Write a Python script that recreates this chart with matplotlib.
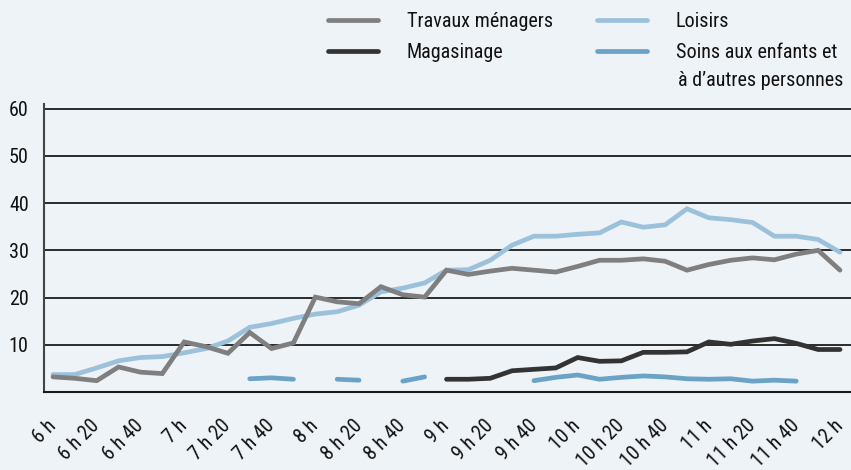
import numpy as np
import matplotlib
matplotlib.use("Agg")
import matplotlib.pyplot as plt
from matplotlib import font_manager

def pick_font(cands):
    for c in cands:
        try:
            font_manager.findfont(font_manager.FontProperties(family=c), fallback_to_default=False)
            return c
        except Exception:
            pass
    return 'DejaVu Sans'

FONT = pick_font(['Liberation Sans Narrow', 'Roboto Condensed', 'Arial Narrow', 'Liberation Sans'])
plt.rcParams['font.family'] = [FONT, 'DejaVu Sans']
narrow = 'Narrow' in FONT or 'Condensed' in FONT
FS = 14.5 if narrow else 12.5

# 10-minute steps from 6 h to 12 h
tick_labels = ["6 h", "6 h 20", "6 h 40", "7 h", "7 h 20", "7 h 40", "8 h", "8 h 20", "8 h 40",
               "9 h", "9 h 20", "9 h 40", "10 h", "10 h 20", "10 h 40", "11 h", "11 h 20", "11 h 40", "12 h"]

travaux = [3.2, 2.9, 2.4, 5.3, 4.2, 3.9, 10.6, 9.6, 8.2, 12.6, 9.2, 10.4, 20.1, 19.1, 18.7, 22.3,
           20.6, 20.1, 25.8, 24.9, 25.6, 26.2, 25.8, 25.4, 26.6, 27.9, 27.9, 28.2, 27.7, 25.8, 27.0,
           27.9, 28.4, 28.0, 29.2, 30.0, 25.8]
loisirs = [3.7, 3.7, 5.1, 6.6, 7.3, 7.5, 8.3, 9.2, 10.8, 13.7, 14.5, 15.6, 16.5, 17.0, 18.4, 21.2,
           22.0, 23.1, 25.8, 25.9, 27.9, 31.1, 33.0, 33.0, 33.4, 33.7, 36.0, 34.9, 35.4, 38.8, 36.9,
           36.5, 35.9, 33.0, 33.0, 32.3, 29.6]
magasinage = [None] * 18 + [2.7, 2.7, 2.9, 4.5, 4.8, 5.1, 7.3, 6.5, 6.6, 8.4, 8.4, 8.5, 10.6, 10.1,
                            10.8, 11.3, 10.3, 9.0, 9.0]
soins = [None] * 9 + [2.8, 3.0, 2.7, None, 2.7, 2.5, None, 2.3, 3.2, None, None, None, None,
                      2.4, 3.1, 3.6, 2.7, 3.1, 3.4, 3.2, 2.8, 2.7, 2.8, 2.3, 2.5, 2.3, None, None]

labels = ["Travaux ménagers", "Magasinage", "Loisirs", "Soins aux enfants et"]

W, H = 851, 470
fig = plt.figure(figsize=(W / 100, H / 100), dpi=100)
bg = '#eef3f8'
fig.patch.set_facecolor(bg)

ax_left, ax_right = 44, 851
ax_top, ax_bottom = 104, 392
ax = fig.add_axes([ax_left / W, (H - ax_bottom) / H, (ax_right - ax_left) / W, (ax_bottom - ax_top) / H])
ax.set_facecolor(bg)

x = np.arange(len(travaux))
def arr(v):
    return np.array([np.nan if a is None else a for a in v], dtype=float)

lw = 3.4
kw = dict(lw=lw, solid_capstyle='round', solid_joinstyle='miter')
l_lo, = ax.plot(x, arr(loisirs), color='#9cc2db', zorder=3, **kw)
l_tr, = ax.plot(x, arr(travaux), color='#7f7f7f', zorder=4, **kw)
l_ma, = ax.plot(x, arr(magasinage), color='#333333', zorder=4, **kw)
l_so, = ax.plot(x, arr(soins), color='#6aa3c5', zorder=4, **kw)

px_per = (840 - 53) / 36
ax.set_xlim(-(53 - ax_left) / px_per, 36 + (ax_right - 840) / px_per)
ax.set_ylim(0, 60 + (108.7 - ax_top) / ((392 - 108.7) / 60))

ax.set_yticks([10, 20, 30, 40, 50, 60])
ax.set_yticklabels(['10', '20', '30', '40', '50', '60'])
ax.yaxis.grid(True, color='#1a1a1a', lw=1.3)
ax.set_axisbelow(True)
ax.tick_params(axis='y', length=0, pad=11, labelsize=FS, labelcolor='#111111')

ax.set_xticks(x[::2])
ax.set_xticklabels(tick_labels, rotation=45, ha='right', va='center', rotation_mode='anchor')
ax.tick_params(axis='x', length=0, pad=22, labelsize=FS, labelcolor='#111111')

for s in ['top', 'right']:
    ax.spines[s].set_visible(False)
ax.spines['left'].set_color('#444444')
ax.spines['left'].set_linewidth(1.5)
ax.spines['bottom'].set_color('#1a1a1a')
ax.spines['bottom'].set_linewidth(1.5)

leg = fig.legend([l_tr, l_ma, l_lo, l_so], labels, ncol=2, loc='upper left',
                 bbox_to_anchor=(328 / W, 1 - 12 / H), frameon=False, fontsize=FS,
                 handlelength=2.5, handletextpad=1.4, columnspacing=2.2, labelspacing=0.62,
                 borderpad=0, borderaxespad=0)
for t in leg.get_texts():
    t.set_color('#111111')
fig.text(678 / W, 1 - 81 / H, "à d\u2019autres personnes", fontsize=FS, color='#111111',
         ha='left', va='center')

fig.savefig('out.png', dpi=100, facecolor=fig.get_facecolor())
